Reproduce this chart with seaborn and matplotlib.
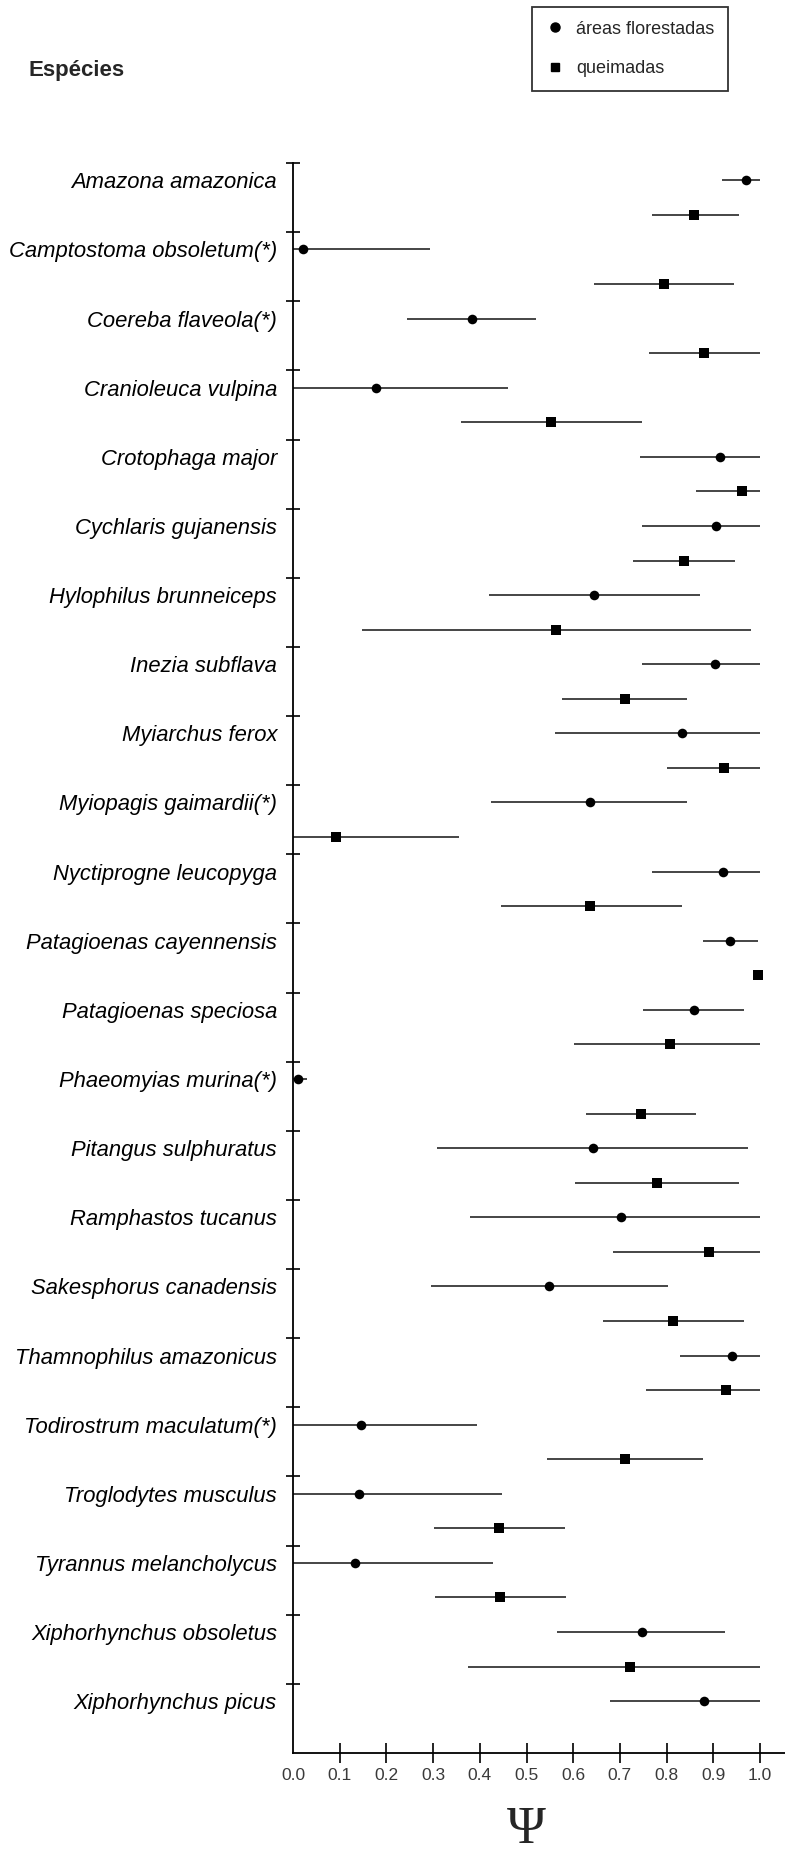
import numpy as np
import pandas as pd
import matplotlib
matplotlib.use("Agg")
import matplotlib.pyplot as plt
import matplotlib.lines as mlines
import seaborn as sns

species = [
    "Amazona amazonica", "Camptostoma obsoletum(*)", "Coereba flaveola(*)",
    "Cranioleuca vulpina", "Crotophaga major", "Cychlaris gujanensis",
    "Hylophilus brunneiceps", "Inezia subflava", "Myiarchus ferox",
    "Myiopagis gaimardii(*)", "Nyctiprogne leucopyga", "Patagioenas cayennensis",
    "Patagioenas speciosa", "Phaeomyias murina(*)", "Pitangus sulphuratus",
    "Ramphastos tucanus", "Sakesphorus canadensis", "Thamnophilus amazonicus",
    "Todirostrum maculatum(*)", "Troglodytes musculus", "Tyrannus melancholycus",
    "Xiphorhynchus obsoletus", "Xiphorhynchus picus",
]

forest_psi = [0.970, 0.021, 0.383, 0.178, 0.914, 0.905, 0.645, 0.903, 0.834, 0.635, 0.921, 0.936,
              0.859, 0.010, 0.642, 0.703, 0.549, 0.941, 0.146, 0.141, 0.132, 0.747, 0.880]
forest_lo = [0.918, 0.0, 0.245, 0.0, 0.743, 0.748, 0.419, 0.748, 0.561, 0.424, 0.768, 0.877,
             0.750, 0.0, 0.309, 0.379, 0.295, 0.828, 0.0, 0.0, 0.0, 0.566, 0.678]
forest_hi = [1.0, 0.293, 0.520, 0.460, 1.0, 1.0, 0.872, 1.0, 1.0, 0.844, 1.0, 0.996,
             0.966, 0.031, 0.974, 1.0, 0.802, 1.0, 0.395, 0.448, 0.428, 0.926, 1.0]

burned_psi = [0.859, 0.795, 0.881, 0.553, 0.961, 0.837, 0.564, 0.710, 0.923, 0.093, 0.637, 0.996,
              0.807, 0.746, 0.779, 0.891, 0.814, 0.927, 0.710, 0.442, 0.443, 0.722, np.nan]
burned_lo = [0.768, 0.645, 0.763, 0.359, 0.863, 0.728, 0.147, 0.576, 0.800, 0.0, 0.446, 0.984,
             0.601, 0.628, 0.604, 0.686, 0.664, 0.755, 0.544, 0.302, 0.305, 0.375, np.nan]
burned_hi = [0.954, 0.944, 0.999, 0.747, 1.0, 0.946, 0.981, 0.844, 1.0, 0.355, 0.832, 1.0,
             1.0, 0.864, 0.956, 1.0, 0.966, 1.0, 0.877, 0.582, 0.585, 1.0, np.nan]

habitat_labels = ["áreas florestadas", "queimadas"]
x_ticks = [0.0, 0.1, 0.2, 0.3, 0.4, 0.5, 0.6, 0.7, 0.8, 0.9, 1.0]

# long table
n = len(species)
rows = []
for i, sp in enumerate(species):
    rows.append(dict(species=sp, habitat=habitat_labels[0], row=2 * i,
                     psi=forest_psi[i], lo=forest_lo[i], hi=forest_hi[i]))
    rows.append(dict(species=sp, habitat=habitat_labels[1], row=2 * i + 1,
                     psi=burned_psi[i], lo=burned_lo[i], hi=burned_hi[i]))
df = pd.DataFrame(rows).dropna()

sns.set_style("ticks")
plt.rcParams["font.family"] = ["Liberation Sans", "DejaVu Sans"]

DPI = 100
fig = plt.figure(figsize=(7.85, 18.51), dpi=DPI)
W, H = 785, 1851
ax_left, ax_right, ax_top, ax_bot = 293, 785, 163, 1753
ax = fig.add_axes([ax_left / W, 1 - ax_bot / H, (ax_right - ax_left) / W, (ax_bot - ax_top) / H])

# error bars
ax.hlines(df["row"], df["lo"], df["hi"], color="#262626", linewidth=1.2, zorder=2)

# points
for hab, mk, s in [(habitat_labels[0], "o", 48), (habitat_labels[1], "s", 52)]:
    sub = df[df["habitat"] == hab]
    sns.scatterplot(data=sub, x="psi", y="row", marker=mk, s=s, color="black",
                    linewidth=0, ax=ax, zorder=3, legend=False)

xmax = (ax_right - ax_left) / 467.0
ax.set_xlim(0, xmax)
ax.set_ylim(2 * n - 0.5, -0.5)

for sp in ["top", "right"]:
    ax.spines[sp].set_visible(False)
for sp in ["left", "bottom"]:
    ax.spines[sp].set_linewidth(1.3)
    ax.spines[sp].set_color("black")

# y ticks: labels at forest rows, separators at group boundaries
ax.set_yticks([2 * i for i in range(n)])
ax.set_yticklabels(species, fontsize=15.8, style="italic", color="black")
ax.tick_params(axis="y", which="major", length=0, pad=11.5)
ax.set_yticks([2 * i - 0.5 for i in range(n)], minor=True)
ax.tick_params(axis="y", which="minor", direction="inout", length=9.7, width=1.2, color="black")

ax.set_xticks(x_ticks)
ax.set_xticklabels([f"{v:.1f}" for v in x_ticks], fontsize=12.5, color="#3a3a3a")
ax.tick_params(axis="x", which="major", direction="inout", length=13.7, width=1.2,
               color="black", pad=4)
ax.xaxis.get_major_ticks()[0].tick1line.set_visible(False)

ax.set_xlabel("Ψ", fontsize=38, family=["Liberation Serif", "DejaVu Serif"])
ax.xaxis.set_label_coords(0.5 / xmax, (ax_bot - 1830) / (ax_bot - ax_top))
ax.xaxis.label.set_va("center")
ax.set_ylabel("")

fig.text(29 / W, 1 - 70 / H, "Espécies", fontsize=16, fontweight="bold",
         ha="left", va="center")

handles = [
    mlines.Line2D([], [], linestyle="none", marker="o", markersize=6.5, color="black"),
    mlines.Line2D([], [], linestyle="none", marker="s", markersize=6.2, color="black"),
]
leg = fig.legend(handles, habitat_labels, loc="upper left",
                 bbox_to_anchor=(532 / W, 1 - 7 / H), bbox_transform=fig.transFigure,
                 frameon=True, fancybox=False, framealpha=1, edgecolor="#333333",
                 fontsize=13, handlelength=1.0, handletextpad=0.7, borderpad=0.75,
                 labelspacing=1.25, borderaxespad=0)
leg.get_frame().set_linewidth(1.3)

fig.savefig("out.png", dpi=DPI)
